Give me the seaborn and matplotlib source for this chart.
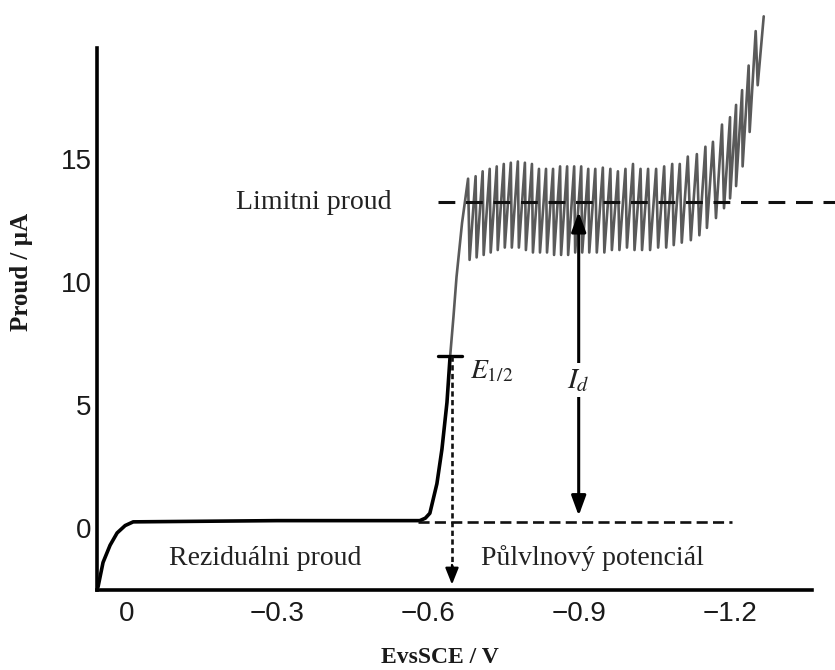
import numpy as np
import matplotlib
matplotlib.use("Agg")
import matplotlib.pyplot as plt
import seaborn as sns

# residual current + start of the wave (black part)
wave_E = [0.056, 0.046, 0.032, 0.018, 0.002, -0.014, -0.30, -0.584, -0.595, -0.604, -0.618, -0.628, -0.638, -0.644]
wave_I = [-2.4, -1.4, -0.7, -0.2, 0.1, 0.25, 0.3, 0.3, 0.4, 0.6, 1.8, 3.2, 5.1, 6.9]

# steep rise above E1/2 (grey part)
rise_E = [-0.644, -0.651, -0.657, -0.664]
rise_I = [6.9, 8.6, 10.2, 11.6]

# dropping-mercury oscillations: potential of each tooth, top and bottom current
tooth_E = [-0.680, -0.695, -0.709, -0.723, -0.737, -0.751, -0.765, -0.779, -0.793, -0.807,
           -0.821, -0.835, -0.849, -0.863, -0.877, -0.891, -0.905, -0.919, -0.933, -0.948,
           -0.963, -0.978, -0.993, -1.008, -1.023, -1.038, -1.054, -1.070, -1.086,
           -1.101, -1.117, -1.135, -1.152, -1.167, -1.185, -1.201, -1.213, -1.225, -1.238,
           -1.252, -1.268]
tooth_top = [14.2, 14.3, 14.5, 14.6, 14.7, 14.8, 14.85, 14.9, 14.85, 14.8,
             14.6, 14.6, 14.6, 14.7, 14.7, 14.7, 14.7, 14.6, 14.6, 14.65,
             14.6, 14.5, 14.6, 14.8, 14.6, 14.6, 14.6, 14.7, 14.8,
             14.8, 15.1, 15.2, 15.5, 15.7, 16.4, 16.7, 17.2, 17.8, 18.8,
             20.2, 20.8]
tooth_bot = [12.4, 10.9, 11.0, 11.1, 11.2, 11.3, 11.4, 11.4, 11.4, 11.3,
             11.2, 11.2, 11.2, 11.1, 11.1, 11.1, 11.2, 11.2, 11.2, 11.2,
             11.2, 11.3, 11.3, 11.4, 11.3, 11.3, 11.3, 11.4, 11.4,
             11.5, 11.6, 11.7, 11.9, 12.2, 12.6, 13.0, 13.4, 13.9, 14.7,
             16.1, 18.0]

# annotation values
limit_I = 13.25
limit_span = [-0.62, -1.41]
resid_I = 0.25
resid_span = [-0.58, -1.205]
half_E = -0.648
half_I = 7.0
id_E = -0.90
id_span = [0.5, 12.85]

x_ticks = [0, -0.3, -0.6, -0.9, -1.2]
x_ticklabels = ["0", "\u22120.3", "\u22120.6", "\u22120.9", "\u22121.2"]
y_ticks = [0, 5, 10, 15]

sns.set_style("white")
plt.rcParams["font.family"] = ["Liberation Sans", "DejaVu Sans"]
plt.rcParams["mathtext.fontset"] = "stix"

fig = plt.figure(figsize=(8.35, 6.70), dpi=100)
ax = fig.add_axes([97 / 835, 80 / 670, 715 / 835, 583.5 / 670])

# build zig-zag from tooth arrays: slow rise, quick drop
rise_w = 0.012
saw_E, saw_I = list(rise_E), list(rise_I)
for e, t, b in zip(tooth_E, tooth_top, tooth_bot):
    saw_E += [e + rise_w, e]
    saw_I += [b, t]

sns.lineplot(x=saw_E, y=saw_I, sort=False, estimator=None, color="#5a5a5a",
             linewidth=1.9, ax=ax, zorder=2)
sns.lineplot(x=wave_E, y=wave_I, sort=False, estimator=None, color="black",
             linewidth=2.6, ax=ax, zorder=3)

serif = ["Liberation Serif", "DejaVu Serif"]

# limiting current
ax.plot(limit_span, [limit_I] * 2, color="#111111", lw=2.2, dashes=(5.5, 3.5),
        clip_on=False, zorder=4)
# residual current baseline
ax.plot(resid_span, [resid_I] * 2, color="#111111", lw=1.9, dashes=(4.2, 2.0), zorder=4)
# half-wave marker and dotted drop
ax.plot([half_E + 0.028, half_E - 0.020], [half_I] * 2, color="black", lw=2.4, zorder=4)
ax.plot([half_E, half_E], [half_I, -1.9], color="#111111", lw=1.9, dashes=(2.0, 1.3), zorder=4)
ax.annotate("", xy=(half_E, -2.3), xytext=(half_E, -1.5),
            arrowprops=dict(arrowstyle="-|>,head_length=0.5,head_width=0.2",
                            color="black", lw=1.6, shrinkA=0, shrinkB=0,
                            mutation_scale=20), zorder=4)
# diffusion current arrow
ax.annotate("", xy=(id_E, id_span[1]), xytext=(id_E, id_span[0]),
            arrowprops=dict(arrowstyle="<|-|>,head_length=0.6,head_width=0.22",
                            color="black", lw=2.2, shrinkA=0, shrinkB=0,
                            mutation_scale=20), zorder=4)
ax.text(id_E, 5.7, r"$I_d$", ha="center", va="baseline", fontsize=21, color="#222222",
        bbox=dict(facecolor="white", edgecolor="none", pad=2), zorder=5)
ax.text(-0.684, 6.1, r"$E_{1/2}$", ha="left", va="baseline", fontsize=20, color="#222222",
        zorder=5)

ax.text(-0.373, 12.97, "Limitni proud", ha="center", va="baseline", fontsize=20,
        family=serif, color="#222222")
ax.text(-0.277, -1.5, "Reziduálni proud", ha="center", va="baseline", fontsize=20,
        family=serif, color="#222222")
ax.text(-0.927, -1.5, "Půlvlnový potenciál", ha="center", va="baseline", fontsize=20,
        family=serif, color="#222222")

ax.set_xlim(0.058, -1.364)
ax.set_ylim(-2.52, 21.2)
ax.set_xticks(x_ticks)
ax.set_xticklabels(x_ticklabels)
ax.set_yticks(y_ticks)
ax.tick_params(axis="both", direction="in", length=7, width=2.4, labelsize=20,
               colors="black", labelcolor="#1a1a1a")
ax.tick_params(axis="x", pad=8)
ax.tick_params(axis="y", pad=4)

for side in ["top", "right"]:
    ax.spines[side].set_visible(False)
for side in ["left", "bottom"]:
    ax.spines[side].set_linewidth(2.6)
    ax.spines[side].set_color("black")
ax.spines["left"].set_bounds(-2.52, 19.5)

ax.set_xlabel("EvsSCE / V", fontsize=17, fontweight="bold", family=serif, color="#1a1a1a")
ax.set_ylabel("Proud / µA", fontsize=18, fontweight="bold", family=serif, color="#1a1a1a")
ax.xaxis.set_label_coords(0.48, -0.098)
ax.yaxis.set_label_coords(-0.09, 0.545)

fig.savefig("out.png", dpi=100)
plt.close(fig)
